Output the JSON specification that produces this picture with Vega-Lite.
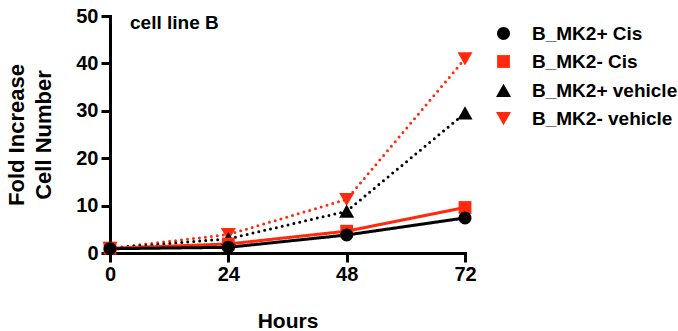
{
  "$schema": "https://vega.github.io/schema/vega-lite/v6.json",
  "width": 355,
  "height": 237,
  "autosize": "none",
  "padding": {"left": 110, "top": 16, "right": 213, "bottom": 78},
  "background": "white",
  "config": {"view": {"stroke": null}, "font": "Liberation Sans", "title": {"fontSize": 19}},
  "title": {
    "text": "cell line B",
    "anchor": "start",
    "frame": "group",
    "orient": "top",
    "offset": 0,
    "dx": 20,
    "dy": 42,
    "baseline": "alphabetic",
    "fontSize": 19,
    "fontWeight": "bold",
    "color": "black",
    "font": "Liberation Sans"
  },
  "data": {
    "values": [
      {"hour": 0, "fold": 1.0, "series": "B_MK2- vehicle"},
      {"hour": 24, "fold": 3.9, "series": "B_MK2- vehicle"},
      {"hour": 48, "fold": 11.3, "series": "B_MK2- vehicle"},
      {"hour": 72, "fold": 41.0, "series": "B_MK2- vehicle"},
      {"hour": 0, "fold": 1.0, "series": "B_MK2+ vehicle"},
      {"hour": 24, "fold": 3.0, "series": "B_MK2+ vehicle"},
      {"hour": 48, "fold": 8.8, "series": "B_MK2+ vehicle"},
      {"hour": 72, "fold": 29.5, "series": "B_MK2+ vehicle"},
      {"hour": 0, "fold": 1.0, "series": "B_MK2- Cis"},
      {"hour": 24, "fold": 1.9, "series": "B_MK2- Cis"},
      {"hour": 48, "fold": 4.6, "series": "B_MK2- Cis"},
      {"hour": 72, "fold": 9.6, "series": "B_MK2- Cis"},
      {"hour": 0, "fold": 0.9, "series": "B_MK2+ Cis"},
      {"hour": 24, "fold": 1.2, "series": "B_MK2+ Cis"},
      {"hour": 48, "fold": 3.8, "series": "B_MK2+ Cis"},
      {"hour": 72, "fold": 7.4, "series": "B_MK2+ Cis"}
    ]
  },
  "encoding": {
    "x": {
      "field": "hour",
      "type": "quantitative",
      "scale": {"domain": [0, 72], "nice": false, "zero": false},
      "axis": {
        "values": [0, 24, 48, 72],
        "title": "Hours",
        "grid": false,
        "zindex": 0,
        "domainWidth": 3,
        "domainColor": "black",
        "domainCap": "square",
        "tickWidth": 3,
        "tickColor": "black",
        "tickSize": 9,
        "labelFont": "Liberation Sans",
        "labelFontWeight": "bold",
        "labelFontSize": 20,
        "labelColor": "black",
        "labelPadding": 2,
        "labelFlush": false,
        "titleFont": "Liberation Sans",
        "titleFontSize": 21,
        "titleFontWeight": "bold",
        "titleColor": "black",
        "titlePadding": 26
      }
    },
    "y": {
      "field": "fold",
      "type": "quantitative",
      "scale": {"domain": [0, 50], "nice": false},
      "axis": {
        "values": [0, 10, 20, 30, 40, 50],
        "title": ["Fold Increase", "Cell Number"],
        "grid": false,
        "zindex": 0,
        "domainWidth": 3,
        "domainColor": "black",
        "domainCap": "square",
        "tickWidth": 3,
        "tickColor": "black",
        "tickSize": 9,
        "labelFont": "Liberation Sans",
        "labelFontWeight": "bold",
        "labelFontSize": 20,
        "labelColor": "black",
        "labelPadding": 3,
        "labelFlush": false,
        "titleFont": "Liberation Sans",
        "titleFontSize": 22,
        "titleFontWeight": "bold",
        "titleColor": "black",
        "titleLineHeight": 27,
        "titleAngle": -90,
        "titleAlign": "center",
        "titleBaseline": "bottom",
        "titleX": -82,
        "titleY": 118.5
      }
    }
  },
  "resolve": {"legend": {"stroke": "independent", "strokeDash": "independent"}},
  "layer": [
    {
      "mark": {"type": "line", "strokeWidth": 3, "strokeCap": "round", "clip": false},
      "encoding": {
        "stroke": {
          "field": "series",
          "type": "nominal",
          "scale": {
            "domain": ["B_MK2+ Cis", "B_MK2- Cis", "B_MK2+ vehicle", "B_MK2- vehicle"],
            "range": ["#000000", "#ff2a0d", "#000000", "#ff2a0d"]
          },
          "legend": null
        },
        "strokeDash": {
          "field": "series",
          "type": "nominal",
          "scale": {
            "domain": ["B_MK2+ Cis", "B_MK2- Cis", "B_MK2+ vehicle", "B_MK2- vehicle"],
            "range": [[1, 0], [1, 0], [0, 6], [0, 6]]
          },
          "legend": null
        }
      }
    },
    {
      "mark": {"type": "point", "filled": true, "opacity": 1, "size": 256, "strokeWidth": 0, "clip": false},
      "encoding": {
        "color": {
          "field": "series",
          "type": "nominal",
          "scale": {
            "domain": ["B_MK2+ Cis", "B_MK2- Cis", "B_MK2+ vehicle", "B_MK2- vehicle"],
            "range": ["#000000", "#ff2a0d", "#000000", "#ff2a0d"]
          },
          "legend": {
            "title": null,
            "orient": "none",
            "legendX": 384,
            "legendY": 8,
            "padding": 0,
            "symbolSize": 256,
            "symbolOpacity": 1,
            "labelFont": "Liberation Sans",
            "labelFontSize": 19,
            "labelFontWeight": "bold",
            "labelColor": "black",
            "labelOffset": 19,
            "labelLimit": 300,
            "rowPadding": 8
          }
        },
        "shape": {
          "field": "series",
          "type": "nominal",
          "scale": {
            "domain": ["B_MK2+ Cis", "B_MK2- Cis", "B_MK2+ vehicle", "B_MK2- vehicle"],
            "range": [
              "M-0.81,0A0.81,0.81 0 1,1 0.81,0A0.81,0.81 0 1,1 -0.81,0Z",
              "M-0.8,-0.8H0.8V0.8H-0.8Z",
              "M0,-0.85L0.94,0.8H-0.94Z",
              "M0,0.85L-0.94,-0.8H0.94Z"
            ]
          }
        }
      }
    }
  ]
}
